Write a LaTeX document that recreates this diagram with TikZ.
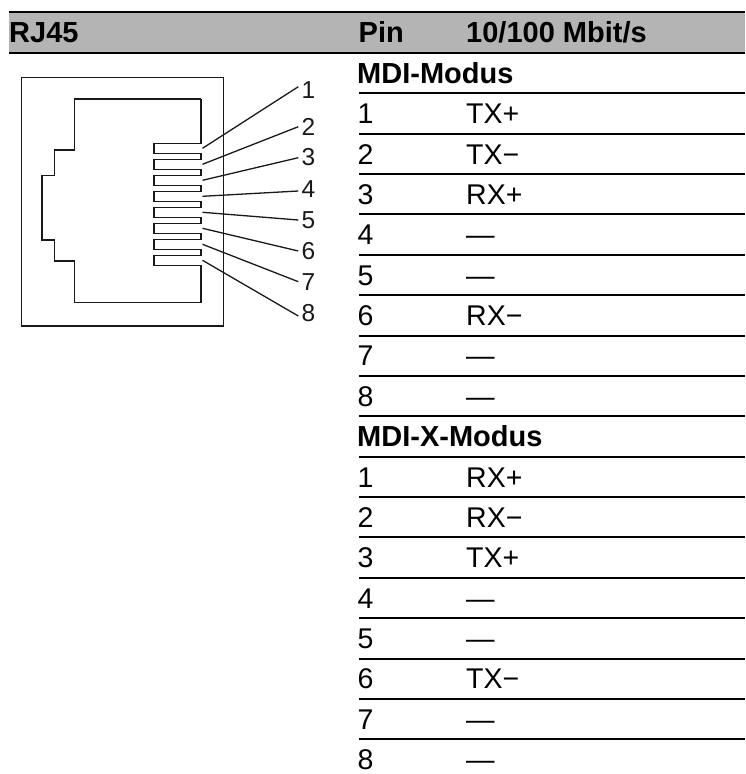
\documentclass[tikz,border=0pt]{standalone}
\usepackage{fontspec}
\setmainfont{Liberation Sans}
\definecolor{headgray}{RGB}{180,180,180}
\definecolor{ink}{RGB}{25,25,25}
\begin{document}
\begin{tikzpicture}[x=1pt,y=-1pt,
  outline/.style={line width=1.3pt, draw=ink, line join=miter},
  rowline/.style={line width=2pt, draw=black},
  hdr/.style={anchor=base west, inner sep=0pt, font=\fontsize{29}{31}\selectfont\bfseries},
  cell/.style={anchor=base west, inner sep=0pt, font=\fontsize{28.5}{30}\selectfont},
  pinlabel/.style={anchor=west, inner sep=0pt, text=ink, font=\fontsize{24.5}{26}\selectfont}]
\useasboundingbox (0,0) rectangle (745,774);
% header band
\fill[headgray] (9,12.3) rectangle (745,52.5);
\draw[rowline] (9,12.3) -- (745,12.3);
\draw[rowline] (9,52.5) -- (745,52.5);
\node[hdr] (hrj) at (9,42.7) {RJ45};
\node[hdr] (hpin) at (358.5,42.7) {Pin};
\node[hdr] (hrate) at (466,42.7) {10/100 Mbit/s};
% table
\node[hdr] (mdi) at (357,83.3) {MDI-Modus};
\foreach \s [count=\i] in {TX+,TX−,RX+,—,—,RX−,—,—} {
  \node[cell] (a\i) at (357.5,{83.3+\i*40.375}) {\i};
  \node[cell] (as\i) at (466,{83.3+\i*40.375}) {\s};
}
\node[hdr] (mdix) at (357,{83.3+9*40.375}) {MDI-X-Modus};
\foreach \s [count=\i] in {RX+,RX−,TX+,—,—,TX−,—,—} {
  \node[cell] (b\i) at (357.5,{83.3+(9+\i)*40.375}) {\i};
  \node[cell] (bs\i) at (466,{83.3+(9+\i)*40.375}) {\s};
}
\foreach \k in {0,...,16} {
  \draw[rowline] (359,{93.3+\k*40.375}) -- (745,{93.3+\k*40.375});
}
% RJ45 socket
\draw[outline] (21.7,77.3) rectangle (223.3,326);
\draw[outline] (201,99) -- (74.5,99) -- (74.5,150) -- (54.3,150) -- (54.3,175.7) -- (42,175.7)
  -- (42,240) -- (54.3,240) -- (54.3,261) -- (74.5,261) -- (74.5,302.7) -- (201,302.7) -- (201,265.3);
\draw[outline] (201,99)
  \foreach \i in {0,...,7} { -- (201,{143.3+16*\i}) -- (154,{143.3+16*\i}) -- (154,{153.3+16*\i}) -- (201,{153.3+16*\i}) }
  -- (201,265.3);
\foreach \i/\e/\c in {1/86.7/90.5, 2/126.7/126.7, 3/157.7/157.3, 4/191/189.3, 5/220/220, 6/251/251.3, 7/281.7/281.7, 8/316/313.3} {
  \coordinate (tp\i) at (202.5,{148.3+16*(\i-1)});
  \coordinate (ep\i) at (298.3,\e);
  \node[pinlabel] (pl\i) at (301.5,\c) {\i};
  \draw[outline] (tp\i) -- (ep\i);
}
\end{tikzpicture}
\end{document}
